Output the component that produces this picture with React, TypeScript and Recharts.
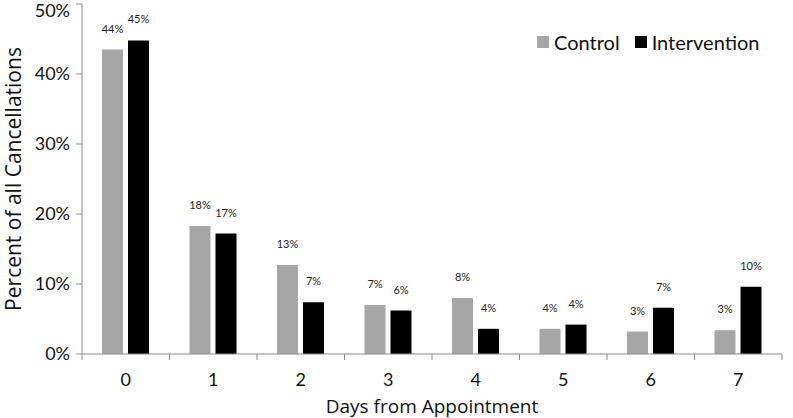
import { Bar, BarChart, LabelList, XAxis, YAxis } from "recharts";

const days = ["0", "1", "2", "3", "4", "5", "6", "7"];
const control = [43.5, 18.3, 12.7, 7.0, 8.0, 3.6, 3.2, 3.4];
const intervention = [44.8, 17.2, 7.4, 6.2, 3.6, 4.2, 6.6, 9.6];
const controlLabels = ["44%", "18%", "13%", "7%", "8%", "4%", "3%", "3%"];
const interventionLabels = ["45%", "17%", "7%", "6%", "4%", "4%", "7%", "10%"];
const yTicks = [0, 10, 20, 30, 40, 50];
const series = [
  { key: "control", name: "Control", color: "#a6a6a6" },
  { key: "intervention", name: "Intervention", color: "#000000" },
];

const data = days.map((d, i) => ({
  day: d,
  control: control[i],
  intervention: intervention[i],
  controlLabel: controlLabels[i],
  interventionLabel: interventionLabels[i],
}));

const font = "Lato, 'Open Sans', sans-serif";
const titleFont = "'Open Sans', Lato, sans-serif";
const axisColor = "#8c8c8c";

const DayTick = (props: any) => {
  const { x, y, payload, index, width } = props;
  const half = width / days.length / 2;
  return (
    <g>
      <line x1={x - half} x2={x - half} y1={y - 8} y2={y - 2} stroke={axisColor} />
      {index === days.length - 1 && (
        <line x1={x + half} x2={x + half} y1={y - 8} y2={y - 2} stroke={axisColor} />
      )}
      <text x={x} y={y + 24} textAnchor="middle" fontSize={18} fill="#111" fontFamily={font}>
        {payload.value}
      </text>
    </g>
  );
};

export default function App() {
  return (
    <div style={{ position: "absolute", left: 0, top: 0, background: "#fff" }}>
      <BarChart
        width={793}
        height={418}
        data={data}
        margin={{ top: 4, right: 11, bottom: 0, left: 0 }}
        barSize={21}
        barGap={5}
      >
        <XAxis
          dataKey="day"
          tick={<DayTick />}
          tickLine={false}
          axisLine={{ stroke: axisColor }}
          height={64}
          label={{
            value: "Days from Appointment",
            position: "insideBottom",
            offset: 5,
            fontSize: 19,
            fill: "#111",
            fontFamily: titleFont,
          }}
        />
        <YAxis
          domain={[0, 50]}
          ticks={yTicks}
          width={82}
          tickFormatter={(v) => `${v}%`}
          tick={{ fontSize: 18, fill: "#111", fontFamily: font }}
          tickLine={{ stroke: axisColor }}
          tickSize={6}
          tickMargin={6}
          axisLine={{ stroke: axisColor }}
          label={{
            value: "Percent of all Cancellations",
            angle: -90,
            position: "insideLeft",
            offset: 14,
            style: { textAnchor: "middle" },
            fontSize: 21,
            fill: "#111",
            fontFamily: titleFont,
          }}
        />
        {series.map((s) => (
          <Bar key={s.key} dataKey={s.key} name={s.name} fill={s.color} isAnimationActive={false}>
            <LabelList
              dataKey={`${s.key}Label`}
              position="top"
              offset={17}
              fontSize={11}
              fill="#222"
              fontFamily={font}
            />
          </Bar>
        ))}
      </BarChart>
      <div
        style={{
          position: "absolute",
          top: 30,
          left: 537,
          display: "flex",
          gap: 15,
          fontFamily: font,
          fontSize: 20,
          color: "#111",
          lineHeight: "24px",
        }}
      >
        {series.map((s) => (
          <div key={s.key} style={{ display: "flex", alignItems: "center", gap: 5 }}>
            <span style={{ width: 12, height: 12, background: s.color, display: "inline-block" }} />
            <span>{s.name}</span>
          </div>
        ))}
      </div>
    </div>
  );
}
